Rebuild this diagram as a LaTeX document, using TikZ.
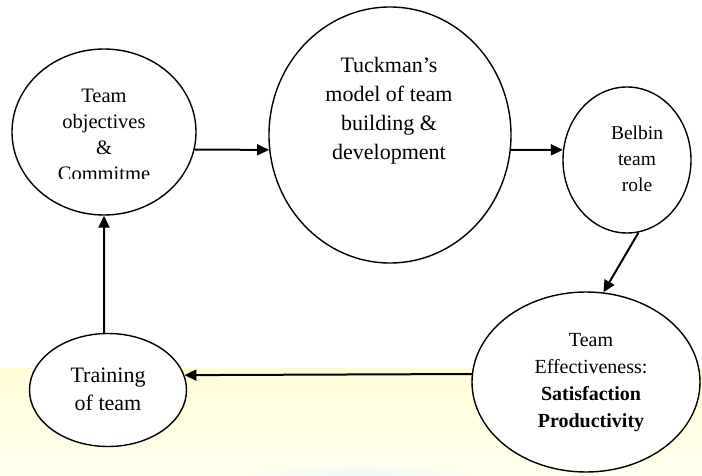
\documentclass[tikz,border=0pt]{standalone}
\usepackage{fontspec}
\setmainfont{Liberation Serif}
\usetikzlibrary{shapes.geometric,arrows.meta}
\definecolor{bandtop}{HTML}{FFFDD6}
\definecolor{bandbot}{HTML}{FFFFEE}
\definecolor{paleblue}{HTML}{E6F8FF}
\begin{document}
\begin{tikzpicture}[x=1pt,y=-1pt,
  bubble/.style={draw,ellipse,line width=1.4pt,fill=white,inner sep=0pt},
  lbl/.style={align=center,inner sep=0pt},
  link/.style={line width=2pt,-{Triangle[length=12pt,width=11pt]}}]
\useasboundingbox (0,0) rectangle (702,476);
% background band
\shade[top color=bandtop,bottom color=bandbot] (0,368) rectangle (702,476);
\shade[inner color=paleblue,outer color=bandbot,opacity=0.8] (360,478) ellipse (120pt and 16pt);
% bubbles
\node[bubble,minimum width=184pt,minimum height=166pt] (obj) at (104,132) {};
\node[bubble,minimum width=242pt,minimum height=256pt] (tuck) at (390,135) {};
\node[bubble,minimum width=128pt,minimum height=146pt] (belb) at (627,160) {};
\node[bubble,minimum width=228pt,minimum height=180pt] (eff) at (586,382) {};
\node[bubble,minimum width=157pt,minimum height=113pt] (train) at (108,390) {};
% texts
\begin{scope}
\clip (0,0) rectangle (702,179);
\node[lbl,font=\fontsize{20.5}{26}\selectfont] (objt) at (104,134.5) {Team\\objectives\\\&\\Commitme};
\end{scope}
\node[lbl,font=\fontsize{22}{29}\selectfont] (tuckt) at (389,111) {Tuckman’s\\model of team\\building \&\\development};
\node[lbl,font=\fontsize{19.5}{26}\selectfont] (belbt) at (637,159) {Belbin\\team\\role};
\node[lbl,font=\fontsize{20}{27}\selectfont] (efft) at (591,383) {Team\\Effectiveness:\\\textbf{Satisfaction}\\\textbf{Productivity}};
\node[lbl,font=\fontsize{22}{28}\selectfont] (traint) at (108,389) {Training\\of team};
% connectors
\draw[link] (obj.-11.3) -- (tuck.187.1);
\draw[link] (tuck.-7.1) -- (belb.171);
\draw[link] (belb.-81.3) -- (eff.79.9);
\draw[link] (eff.176.5) -- (train.11.2);
\draw[link] (train.94) -- (obj.-90);
\end{tikzpicture}
\end{document}
